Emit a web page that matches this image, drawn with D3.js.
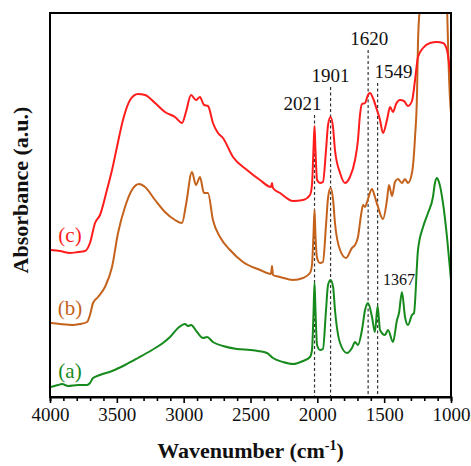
<!DOCTYPE html>
<html>
<head>
<meta charset="utf-8">
<script src="https://cdn.jsdelivr.net/npm/d3@7"></script>
<style>
  body { margin: 0; background: #fff; }
  text { font-family: "Liberation Serif", "Times New Roman", serif; }
</style>
</head>
<body>
<div class="chart"></div>
<script>
// FTIR spectra (a), (b), (c)

var svgWidth = 471;
var svgHeight = 466;
var margin = { top: 13, right: 20, bottom: 69, left: 50 };
var width = svgWidth - margin.left - margin.right;
var height = svgHeight - margin.top - margin.bottom;

// wavenumber (cm-1) and absorbance (a.u., stacked)
var waveC = [3993, 3925, 3850, 3790, 3738, 3701, 3663, 3626, 3574, 3536, 3499, 3454, 3401, 3342, 3289, 3214, 3140, 3065, 3012, 2983, 2945, 2908, 2878, 2848, 2818, 2781, 2743, 2706, 2631, 2526, 2429, 2347, 2339, 2332, 2279, 2182, 2107, 2055, 2040, 2029, 2021, 2014, 2002, 1980, 1958, 1935, 1920, 1901, 1882, 1868, 1830, 1793, 1756, 1718, 1696, 1681, 1666, 1643, 1621, 1606, 1584, 1554, 1531, 1509, 1479, 1456, 1434, 1411, 1382, 1352, 1322, 1292, 1269, 1247, 1209, 1157, 1105, 1060, 1030, 1007, 1000];
var absC = [1.47, 1.46, 1.44, 1.45, 1.46, 1.54, 1.74, 1.82, 2.07, 2.27, 2.50, 2.77, 2.97, 3.03, 3.02, 2.94, 2.85, 2.80, 2.74, 2.85, 3.02, 2.97, 3.00, 2.92, 2.91, 2.74, 2.64, 2.59, 2.40, 2.27, 2.17, 2.10, 2.14, 2.09, 2.04, 1.96, 1.97, 2.02, 2.12, 2.47, 2.71, 2.47, 2.17, 2.14, 2.15, 2.47, 2.72, 2.80, 2.69, 2.47, 2.24, 2.14, 2.20, 2.37, 2.57, 2.82, 2.93, 2.94, 3.02, 3.04, 2.99, 2.87, 2.77, 2.64, 2.77, 2.90, 2.85, 2.93, 2.97, 2.96, 2.91, 2.96, 3.17, 3.40, 3.49, 3.54, 3.55, 3.54, 3.47, 3.27, 3.22];

var waveB = [3993, 3925, 3835, 3776, 3723, 3701, 3678, 3641, 3589, 3536, 3491, 3439, 3387, 3334, 3289, 3214, 3140, 3065, 3012, 2983, 2938, 2908, 2878, 2848, 2818, 2781, 2728, 2653, 2556, 2429, 2347, 2339, 2332, 2279, 2182, 2107, 2055, 2040, 2029, 2021, 2014, 2002, 1980, 1958, 1935, 1920, 1901, 1882, 1868, 1830, 1785, 1741, 1718, 1696, 1673, 1658, 1643, 1628, 1591, 1569, 1546, 1509, 1479, 1464, 1441, 1419, 1397, 1367, 1344, 1322, 1292, 1269, 1254, 1247, 1232, 1195, 1082, 1030, 1019, 1007, 1000];
var absB = [0.74, 0.73, 0.72, 0.73, 0.75, 0.82, 0.94, 1.00, 1.10, 1.30, 1.64, 1.90, 2.07, 2.13, 2.10, 1.97, 1.85, 1.77, 1.74, 1.92, 2.25, 2.12, 2.20, 2.04, 2.04, 1.77, 1.60, 1.47, 1.35, 1.27, 1.23, 1.31, 1.22, 1.20, 1.17, 1.19, 1.24, 1.32, 1.62, 1.87, 1.62, 1.39, 1.34, 1.35, 1.72, 1.99, 2.09, 1.97, 1.74, 1.47, 1.39, 1.49, 1.52, 1.60, 1.82, 1.92, 1.90, 1.95, 2.08, 2.00, 1.90, 1.78, 1.97, 2.12, 2.01, 2.15, 2.18, 2.14, 2.18, 2.14, 2.24, 2.60, 3.04, 3.54, 3.92, 4.50, 4.80, 3.92, 3.37, 2.97, 2.84];

var waveA = [3993, 3940, 3910, 3865, 3790, 3723, 3701, 3678, 3626, 3536, 3439, 3342, 3237, 3155, 3102, 3042, 2990, 2968, 2945, 2900, 2855, 2825, 2781, 2706, 2601, 2504, 2444, 2377, 2332, 2257, 2182, 2107, 2055, 2040, 2029, 2021, 2014, 2002, 1980, 1958, 1935, 1920, 1901, 1882, 1868, 1830, 1778, 1741, 1718, 1696, 1666, 1643, 1621, 1591, 1569, 1549, 1531, 1494, 1471, 1434, 1404, 1389, 1367, 1344, 1322, 1292, 1277, 1247, 1209, 1172, 1135, 1120, 1105, 1090, 1060, 1030, 1007, 1000];
var absA = [0.10, 0.12, 0.13, 0.11, 0.12, 0.12, 0.14, 0.19, 0.22, 0.26, 0.32, 0.39, 0.47, 0.54, 0.60, 0.69, 0.73, 0.71, 0.72, 0.65, 0.59, 0.60, 0.55, 0.51, 0.48, 0.47, 0.46, 0.44, 0.39, 0.35, 0.33, 0.36, 0.40, 0.47, 0.82, 1.14, 0.87, 0.52, 0.47, 0.48, 0.87, 1.12, 1.17, 1.10, 0.87, 0.54, 0.44, 0.49, 0.55, 0.52, 0.67, 0.87, 0.94, 0.80, 0.65, 0.91, 0.67, 0.62, 0.67, 0.55, 0.77, 0.84, 1.05, 0.80, 0.72, 0.82, 0.84, 1.47, 1.70, 1.84, 2.00, 2.14, 2.19, 2.15, 1.94, 1.60, 1.27, 1.17];

var seriesNames = ["(a)", "(b)", "(c)"];
var seriesColors = ["#168a1c", "#c4621c", "#ff1c1c"];
var seriesLabelAbs = [0.19, 0.82, 1.55];

var peakWaves = [2021, 1901, 1620, 1549];
var peakTopAbs = [2.82, 3.10, 3.47, 3.14];
var peakAnchor = ["end", "middle", "middle", "start"];
var peakDx = [7, 0, 1, -3];

var xTicks = [4000, 3500, 3000, 2500, 2000, 1500, 1000];

var svg = d3.select(".chart")
  .append("svg")
  .attr("width", svgWidth)
  .attr("height", svgHeight);

var chart = svg.append("g")
  .attr("transform", "translate(" + margin.left + "," + margin.top + ")");

var xScale = d3.scaleLinear().domain([4000, 1000]).range([0, width]);
var yScale = d3.scaleLinear().domain([0, 3.84]).range([height, 0]);

chart.append("clipPath")
  .attr("id", "plot-clip")
  .append("rect")
  .attr("width", width)
  .attr("height", height);

// dashed peak markers
peakWaves.forEach(function(w, i) {
  chart.append("line")
    .attr("x1", xScale(w)).attr("x2", xScale(w))
    .attr("y1", yScale(peakTopAbs[i])).attr("y2", height)
    .attr("stroke", "#333")
    .attr("stroke-width", 1.2)
    .attr("stroke-dasharray", "3,2.5");
  chart.append("text")
    .attr("x", xScale(w) + peakDx[i])
    .attr("y", yScale(peakTopAbs[i]) - 5)
    .attr("text-anchor", peakAnchor[i])
    .style("font-size", "19px")
    .attr("fill", "#111")
    .text(w);
});

var line = d3.line()
  .x(function(d) { return xScale(d[0]); })
  .y(function(d) { return yScale(d[1]); })
  .curve(d3.curveMonotoneX);

var allSeries = [
  d3.zip(waveA, absA),
  d3.zip(waveB, absB),
  d3.zip(waveC, absC)
];

allSeries.forEach(function(data, i) {
  chart.append("path")
    .datum(data)
    .attr("clip-path", "url(#plot-clip)")
    .attr("fill", "none")
    .attr("stroke", seriesColors[i])
    .attr("stroke-width", 2)
    .attr("stroke-linejoin", "round")
    .attr("d", line);

  chart.append("text")
    .attr("x", 20)
    .attr("y", yScale(seriesLabelAbs[i]))
    .attr("text-anchor", "middle")
    .style("font-size", "21px")
    .attr("fill", seriesColors[i])
    .text(seriesNames[i]);
});

chart.append("text")
  .attr("x", xScale(1367) - 3)
  .attr("y", yScale(1.12))
  .attr("text-anchor", "middle")
  .style("font-size", "16px")
  .attr("fill", "#111")
  .text("1367");

// frame
chart.append("rect")
  .attr("width", width)
  .attr("height", height)
  .attr("fill", "none")
  .attr("stroke", "#000")
  .attr("stroke-width", 2);

// x axis: minor ticks every 100, labels every 500
var bottomAxis = d3.axisBottom(xScale)
  .tickValues(d3.range(4000, 999, -100))
  .tickSize(4)
  .tickFormat(function(d) { return xTicks.indexOf(d) >= 0 ? d : ""; });

var xAxis = chart.append("g")
  .attr("transform", "translate(0," + height + ")")
  .call(bottomAxis);

xAxis.select(".domain").attr("stroke-width", 2);
xAxis.selectAll(".tick line")
  .attr("stroke-width", 1.6)
  .attr("y2", function(d) { return xTicks.indexOf(d) >= 0 ? 6 : 4; });
xAxis.selectAll(".tick text")
  .attr("y", 11)
  .style("font-family", "'Liberation Serif', serif")
  .style("font-size", "19px")
  .attr("fill", "#111");

// axis titles
var xTitle = chart.append("text")
  .attr("x", width / 2)
  .attr("y", height + 61)
  .attr("text-anchor", "middle")
  .style("font-size", "22px")
  .style("font-weight", "bold")
  .attr("fill", "#111");
xTitle.append("tspan").text("Wavenumber (cm");
xTitle.append("tspan").attr("dy", -8).style("font-size", "14px").text("-1");
xTitle.append("tspan").attr("dy", 8).text(")");

chart.append("text")
  .attr("transform", "rotate(-90)")
  .attr("x", -(height / 2) + 15)
  .attr("y", -22)
  .attr("text-anchor", "middle")
  .style("font-size", "22px")
  .style("font-weight", "bold")
  .attr("fill", "#111")
  .text("Absorbance (a.u.)");
</script>
</body>
</html>
